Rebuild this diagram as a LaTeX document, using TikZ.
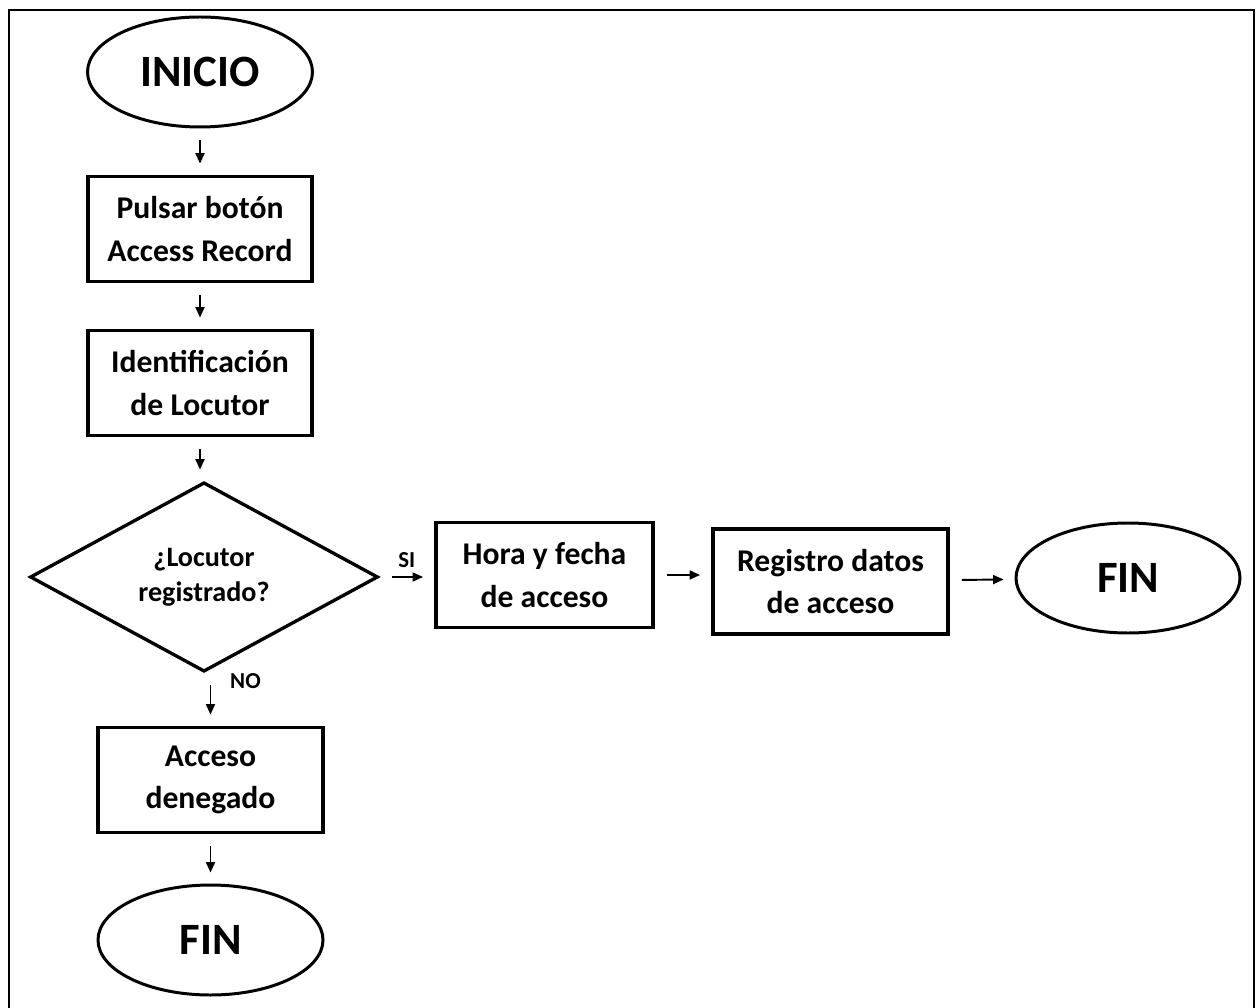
\documentclass[tikz,border=0pt]{standalone}
\usepackage{fontspec}
\setmainfont{Carlito}
\usetikzlibrary{arrows.meta,shapes.geometric}

\begin{document}
\begin{tikzpicture}[
  link/.style={draw=black,line width=1.1pt,-{Triangle[length=2.1mm,width=1.8mm]},
    shorten <=2.4mm,shorten >=2.2mm},
  terminal/.style={ellipse,draw=black,line width=1.7pt,inner sep=0pt,
    font=\bfseries\fontsize{25.5}{30}\selectfont,minimum width=45mm,minimum height=22mm},
  process/.style={rectangle,draw=black,line width=2.2pt,align=center,
    font=\bfseries\fontsize{18}{24}\selectfont,minimum height=21mm},
  decision/.style={diamond,draw=black,line width=1.9pt,align=center,inner sep=0pt,
    font=\bfseries\fontsize{16}{20}\selectfont,minimum width=69.6mm,minimum height=37.2mm},
  answer/.style={font=\bfseries\fontsize{13}{15}\selectfont,inner sep=1pt}]

\useasboundingbox (0,0) rectangle (25.18,-20.16);
\draw[line width=1.1pt] (0.18,-0.2) rectangle (25.08,-20.5);

\node[terminal] (start) at (4.0,-1.44) {INICIO};
\node[process,minimum width=44.8mm] (pulsar) at (4.0,-4.58)
  {Pulsar botón\\Access Record};
\node[process,minimum width=44.8mm] (ident) at (4.0,-7.66)
  {Identificación\\de Locutor};
\node[decision] (dec) at (4.08,-11.54)
  {¿Locutor\\registrado?};

\node[process,minimum width=43.4mm] (hora) at (10.89,-11.5)
  {Hora y fecha\\de acceso};
\node[process,minimum width=47mm] (reg) at (16.61,-11.63)
  {Registro datos\\de acceso};
\node[terminal,minimum width=44.8mm] (fin1) at (22.56,-11.56) {FIN};

\node[process,minimum width=45mm] (deny) at (4.21,-15.6)
  {Acceso\\denegado};
\node[terminal] (fin2) at (4.21,-18.8) {FIN};

\draw[link] (start) -- (pulsar);
\draw[link] (pulsar) -- (ident);
\draw[link] (ident.south) -- (ident.south |- dec.north);
\draw[link] (dec.east) -- (dec.east -| hora.west)
  node[answer,midway,above=1.4mm] {SI};
\draw[link] (hora.east) -- (hora.east -| reg.west);
\draw[link] (reg) -- (fin1);
\draw[link] (dec.south -| deny.north) -- (deny.north)
  node[answer,pos=0.15,right=3.4mm] {NO};
\draw[link] (deny) -- (fin2);
\end{tikzpicture}
\end{document}
